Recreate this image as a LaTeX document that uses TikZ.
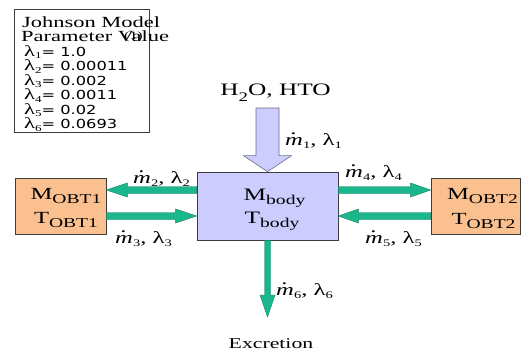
\documentclass[tikz,border=0pt]{standalone}
\usepackage{fontspec}
\setmainfont{Liberation Serif}[FakeStretch=1.45]
\newfontfamily\numfont{DejaVu Sans}[FakeStretch=1.3]
\usetikzlibrary{calc}
\definecolor{lav}{RGB}{204,204,255}
\definecolor{lavline}{RGB}{110,110,135}
\definecolor{peach}{RGB}{250,192,144}
\definecolor{grn}{RGB}{28,182,140}
\definecolor{grnline}{RGB}{20,130,100}
\definecolor{boxline}{RGB}{60,60,60}
\newcommand\lsub[1]{\raisebox{-4pt}{\fontsize{13.5}{14}\selectfont #1}}
\newcommand\gsub[1]{\raisebox{-2.5pt}{\fontsize{9}{9}\selectfont #1}}
\newcommand\fsub[1]{\raisebox{-3pt}{\fontsize{10}{10}\selectfont #1}}
\newcommand\mdot{\makebox[0pt][l]{\hspace{0.3em}\raisebox{0.62em}{\textup{.}}}\textit{m}}
\newcommand\lamline[2]{λ\gsub{#1}{\numfont\fontsize{12.5}{13}\selectfont= #2}}
% #1 style, #2 start, #3 tip, #4 shaft half width, #5 head half width, #6 head length
\newcommand\fatarrow[6]{%
  \coordinate (fab) at ($(#3)!#6!(#2)$);
  \draw[#1] ($(#2)!#4!90:(#3)$) -- ($(fab)!#4!90:(#3)$) -- ($(fab)!#5!90:(#3)$)
    -- (#3) -- ($(fab)!#5!-90:(#3)$) -- ($(fab)!#4!-90:(#3)$) -- ($(#2)!#4!-90:(#3)$) -- cycle;}
\tikzset{
  bodybox/.style={draw=boxline, line width=0.7pt, fill=lav, inner sep=0pt},
  obtbox/.style={draw=boxline, line width=0.7pt, fill=peach, inner sep=0pt, minimum height=56pt},
  parambox/.style={draw=boxline, line width=0.7pt, fill=white, inner sep=0pt, anchor=north west},
  greenarrow/.style={fill=grn, draw=grnline, line width=0.4pt, line join=miter},
  inarrow/.style={fill=lav, draw=lavline, line width=0.6pt},
  ptext/.style={anchor=base west, inner sep=0pt, font=\fontsize{15.5}{16}\selectfont},
  btext/.style={anchor=base, inner sep=0pt, font=\fontsize{17.5}{18}\selectfont},
  otext/.style={anchor=base, inner sep=0pt, font=\fontsize{17}{18}\selectfont},
  flowlabel/.style={anchor=base west, inner sep=0pt, font=\fontsize{17}{18}\selectfont},
  bigtext/.style={anchor=base, inner sep=0pt, font=\fontsize{17.5}{18}\selectfont},
}
\begin{document}
\begin{tikzpicture}[x=1pt,y=-1pt]
\useasboundingbox (0,0) rectangle (522,354);
\fill[white] (0,0) rectangle (522,354);

% parameter box
\node[parambox, minimum width=135pt, minimum height=123pt] (param) at (14,9) {};
\node[ptext] (p0) at (22,27) {Johnson Model};
\node[ptext] (p1) at (21,41.5) {Parameter Value};
\node[ptext, font=\fontsize{11}{12}\selectfont] (p1b) at (124,39) {(1)};
\node[ptext] (l1) at (24,56) {\lamline{1}{1.0}};
\node[ptext] (l2) at (24,70.5) {\lamline{2}{0.00011}};
\node[ptext] (l3) at (24,85) {\lamline{3}{0.002}};
\node[ptext] (l4) at (24,99.5) {\lamline{4}{0.0011}};
\node[ptext] (l5) at (24,114) {\lamline{5}{0.02}};
\node[ptext] (l6) at (24,128.5) {\lamline{6}{0.0693}};

% boxes
\node[bodybox, minimum width=141pt, minimum height=68pt] (body) at (267.5,206) {};
\node[obtbox, minimum width=91pt] (obt1) at (60.5,206) {};
\node[obtbox, minimum width=89pt] (obt2) at (475.5,206) {};

\node[btext] (mbody) at (274.5,200) {M\lsub{body}};
\node[btext] (tbody) at (272,223) {T\lsub{body}};
\node[otext] (mobt1) at (66,199) {M\lsub{OBT1}};
\node[otext] (tobt1) at (66,223) {T\lsub{OBT1}};
\node[otext] (mobt2) at (482.5,199) {M\lsub{OBT2}};
\node[otext] (tobt2) at (483.5,224) {T\lsub{OBT2}};

% input arrow
\coordinate (instart) at (267.5,108);
\fatarrow{inarrow}{instart}{body.north}{11.5pt}{24pt}{16pt}
\node[bigtext] (h2o) at (275.5,95) {H\raisebox{-6pt}{\fontsize{13}{13}\selectfont 2}O, HTO};

% exchange arrows
\coordinate (a2s) at ([yshift=16pt]body.west);
\coordinate (a2e) at ([yshift=16pt]obt1.east);
\fatarrow{greenarrow}{a2s}{a2e}{3.5pt}{7pt}{21pt}
\coordinate (a3s) at ([yshift=-10pt]obt1.east);
\coordinate (a3e) at ([yshift=-10pt]body.west);
\fatarrow{greenarrow}{a3s}{a3e}{3.5pt}{7pt}{21pt}
\coordinate (a4s) at ([yshift=16pt]body.east);
\coordinate (a4e) at ([yshift=16pt]obt2.west);
\fatarrow{greenarrow}{a4s}{a4e}{3.5pt}{7pt}{20pt}
\coordinate (a5s) at ([yshift=-10pt]obt2.west);
\coordinate (a5e) at ([yshift=-10pt]body.east);
\fatarrow{greenarrow}{a5s}{a5e}{3.5pt}{7pt}{20pt}
\coordinate (exctip) at (267.5,317);
\fatarrow{greenarrow}{body.south}{exctip}{3pt}{7.5pt}{22pt}

% flow labels
\node[flowlabel] (f1) at (285,145) {\mdot\fsub{1}, λ\fsub{1}};
\node[flowlabel] (f2) at (133,183) {\mdot\fsub{2}, λ\fsub{2}};
\node[flowlabel] (f3) at (115,243) {\mdot\fsub{3}, λ\fsub{3}};
\node[flowlabel] (f4) at (345,177) {\mdot\fsub{4}, λ\fsub{4}};
\node[flowlabel] (f5) at (365,243) {\mdot\fsub{5}, λ\fsub{5}};
\node[flowlabel] (f6) at (276,295) {\mdot\fsub{6}, λ\fsub{6}};

\node[anchor=base, inner sep=0pt, font=\fontsize{15}{16}\selectfont] (exc) at (271,348) {Excretion};
\end{tikzpicture}
\end{document}
